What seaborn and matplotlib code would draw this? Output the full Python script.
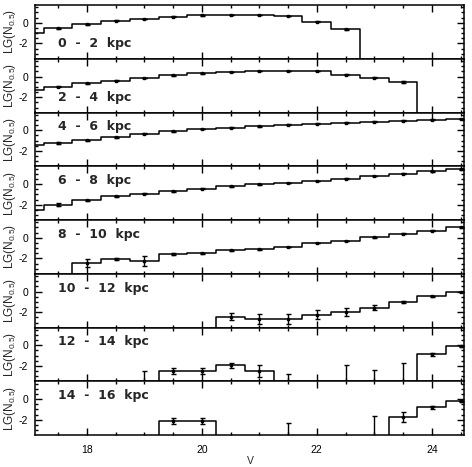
import matplotlib
matplotlib.use("Agg")
import matplotlib.pyplot as plt
import numpy as np
import pandas as pd
import seaborn as sns
from matplotlib.ticker import MultipleLocator

# ---------------- data ----------------
# V-magnitude bin centres (bin width 0.5 mag)
v_centres = [17.0, 17.5, 18.0, 18.5, 19.0, 19.5, 20.0, 20.5,
             21.0, 21.5, 22.0, 22.5, 23.0, 23.5, 24.0, 24.5]
x_ticks = [18, 20, 22, 24]
y_ticks = [-2, 0]
panel_labels = ["0  -  2  kpc", "2  -  4  kpc", "4  -  6  kpc", "6  -  8  kpc",
                "8  -  10  kpc", "10  -  12  kpc", "12  -  14  kpc", "14  -  16  kpc"]
y_label = "LG(N$_{0.5}$)"
x_label = "V"

N = None
lg_00_02 = [-1.03, -0.55, -0.16, 0.19, 0.35, 0.58, 0.71, 0.77, 0.77, 0.65, 0.10, -0.65, N, N, N, N]
err_00_02 = [0.10, 0.08, 0.05, 0.04, 0.03, 0.03, 0.03, 0.03, 0.03, 0.03, 0.04, 0.08, N, N, N, N]
lg_02_04 = [-1.29, -0.97, -0.65, -0.39, -0.13, 0.10, 0.32, 0.42, 0.52, 0.52, 0.52, 0.19, -0.13, -0.52, N, N]
err_02_04 = [0.12, 0.08, 0.06, 0.04, 0.03, 0.03, 0.03, 0.03, 0.03, 0.03, 0.03, 0.04, 0.05, 0.07, N, N]
lg_04_06 = [-1.39, -1.23, -0.97, -0.68, -0.32, -0.10, 0.13, 0.26, 0.39, 0.55, 0.65, 0.74, 0.84, 0.94, 1.03, 1.10]
err_04_06 = [0.15, 0.08, 0.06, 0.05, 0.04, 0.03, 0.03, 0.03, 0.03, 0.03, 0.03, 0.03, 0.03, 0.03, 0.03, 0.03]
lg_06_08 = [-2.48, -2.00, -1.58, -1.19, -0.94, -0.71, -0.45, -0.23, -0.03, 0.10, 0.29, 0.52, 0.77, 1.00, 1.23, 1.42]
err_06_08 = [0.30, 0.15, 0.08, 0.06, 0.05, 0.04, 0.04, 0.03, 0.03, 0.03, 0.03, 0.03, 0.03, 0.03, 0.03, 0.03]
lg_08_10 = [N, N, -2.45, -2.06, -2.23, -1.58, -1.52, -1.19, -1.13, -0.90, -0.52, -0.32, 0.03, 0.39, 0.68, 1.00]
err_08_10 = [N, N, 0.42, 0.12, 0.48, 0.06, 0.06, 0.05, 0.04, 0.04, 0.03, 0.03, 0.03, 0.03, 0.03, 0.03]
lg_10_12 = [N, N, N, N, N, N, N, -2.45, -2.68, -2.68, -2.23, -1.97, -1.55, -1.00, -0.45, -0.03]
err_10_12 = [N, N, N, N, N, N, N, 0.35, 0.50, 0.50, 0.45, 0.35, 0.20, 0.07, 0.05, 0.03]
lg_12_14 = [N, N, N, N, N, -2.52, -2.52, -1.94, -2.48, N, N, N, N, N, -0.87, -0.10]
err_12_14 = [N, N, N, N, N, 0.30, 0.30, 0.25, 0.55, N, N, N, N, N, 0.15, 0.06]
lg_14_16 = [N, N, N, N, N, -2.16, -2.16, N, N, N, N, N, N, -1.71, -0.81, -0.23]
err_14_16 = [N, N, N, N, N, 0.30, 0.30, N, N, N, N, N, N, 0.50, 0.15, 0.06]

# upper limits for empty bins (bar drawn up from the floor)
ul_v_12_14 = [19.0, 21.5, 22.5, 23.0, 23.5]
ul_lg_12_14 = [-2.52, -2.77, -1.94, -2.35, -1.68]
ul_v_14_16 = [21.5, 23.0]
ul_lg_14_16 = [-2.32, -1.68]

series = [(lg_00_02, err_00_02), (lg_02_04, err_02_04), (lg_04_06, err_04_06),
          (lg_06_08, err_06_08), (lg_08_10, err_08_10), (lg_10_12, err_10_12),
          (lg_12_14, err_12_14), (lg_14_16, err_14_16)]
upper_limits = {6: (ul_v_12_14, ul_lg_12_14), 7: (ul_v_14_16, ul_lg_14_16)}

# ---------------- style ----------------
sns.set_style("ticks")
plt.rcParams["font.family"] = ["Liberation Sans", "DejaVu Sans"]
plt.rcParams["mathtext.default"] = "regular"

fig = plt.figure(figsize=(4.72, 4.67), dpi=100)
axes = fig.subplots(8, 1, sharex=True)
fig.subplots_adjust(left=35/472, right=464/472, top=1-5/467, bottom=1-435/467, hspace=0)

FLOOR = -9.0
half = 0.25
for i, ax in enumerate(axes):
    vals, errs = series[i]
    draw_vals = [v if v is not None else FLOOR for v in vals]
    xs = [c - half for c in v_centres] + [v_centres[-1] + half]
    ys = draw_vals + [draw_vals[-1]]
    df = pd.DataFrame({"V": xs, "lg": ys})
    sns.lineplot(data=df, x="V", y="lg", drawstyle="steps-post", color="black",
                 lw=1.1, ax=ax, estimator=None, sort=False)

    pts = [(c, v, e) for c, v, e in zip(v_centres, vals, errs) if v is not None]
    px, py, pe = zip(*pts)
    ax.errorbar(px, py, yerr=pe, fmt="s", ms=1.5, color="black", ecolor="black",
                elinewidth=1.0, capsize=1.8, capthick=1.0, lw=0)

    if i in upper_limits:
        uv, ul = upper_limits[i]
        lo = [10.0] * len(uv)
        hi = [0.0] * len(uv)
        ax.errorbar(uv, ul, yerr=[lo, hi], fmt="none", ecolor="black",
                    elinewidth=1.0, capsize=1.8, capthick=1.0)

    ax.set_xlim(17.1, 24.56)
    ax.set_ylim(-3.48, 1.72)
    ax.set_yticks(y_ticks)
    ax.set_yticklabels([str(t) for t in y_ticks])
    ax.yaxis.set_minor_locator(MultipleLocator(0.5))
    ax.set_xticks(x_ticks)
    ax.xaxis.set_minor_locator(MultipleLocator(0.5))
    ax.tick_params(which="both", direction="in", top=True, right=True,
                   width=1.0, labelsize=7.5, colors="black")
    ax.tick_params(which="major", length=5)
    ax.tick_params(which="minor", length=2.5)
    ax.tick_params(axis="y", pad=5)
    ax.tick_params(axis="x", pad=7)
    for sp in ax.spines.values():
        sp.set_visible(True)
        sp.set_linewidth(1.1)
        sp.set_color("black")
    ax.set_xlabel("")
    ax.set_ylabel(y_label, fontsize=8.5)
    ax.yaxis.set_label_coords(-0.04, 0.5)

    label_y = -2.0 if i < 2 else 0.32
    ax.text(17.5, label_y, panel_labels[i], fontsize=9, fontweight="bold",
            family=["DejaVu Sans"], va="center", ha="left")

fig.text(250/472, 1/467, x_label, fontsize=7.5, ha="center", va="bottom")

fig.savefig("out.png", dpi=100)
